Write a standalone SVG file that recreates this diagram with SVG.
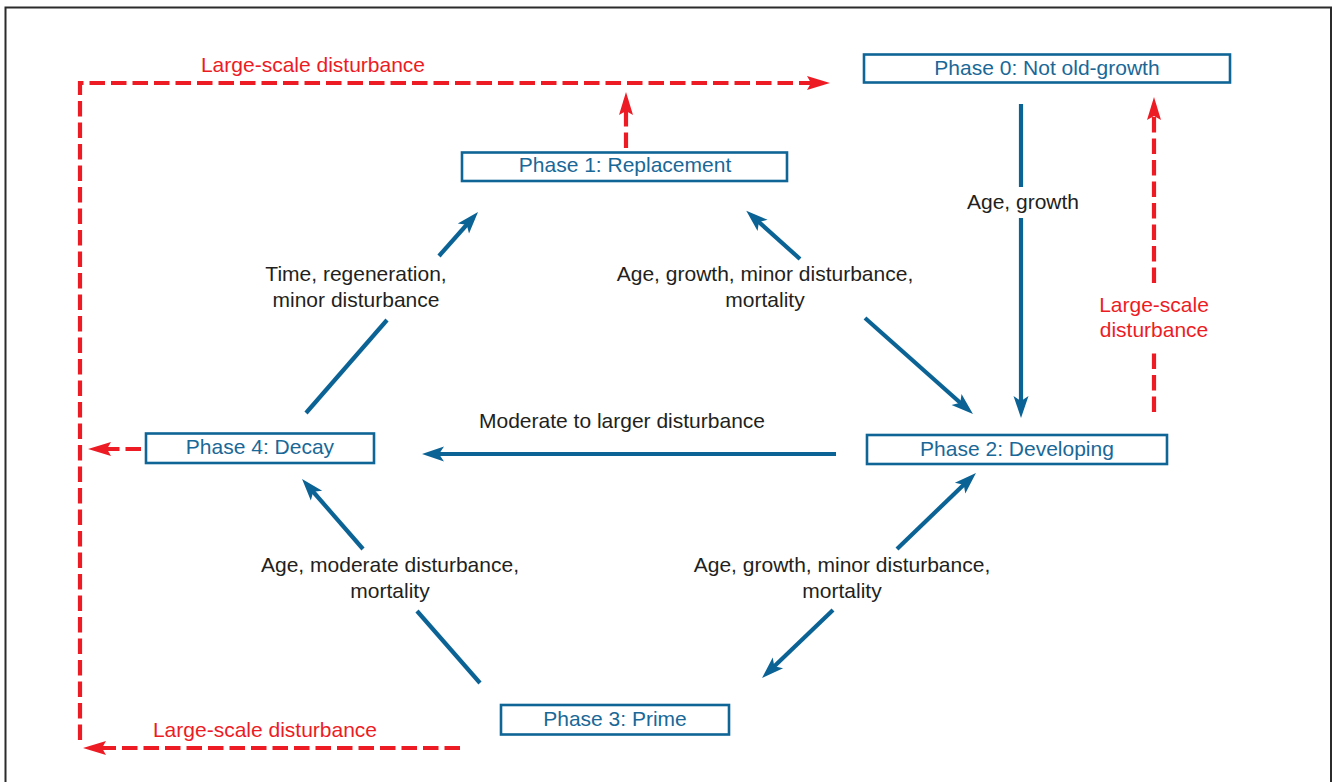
<svg xmlns="http://www.w3.org/2000/svg" width="1334" height="782" viewBox="0 0 1334 782">
<style>
.node rect{fill:#fff;stroke:#0f6596;stroke-width:2.6}
.node text{fill:#1a6897;font-family:"Liberation Sans",Arial,sans-serif;font-size:21px;text-anchor:middle}
.lbl{fill:#231f20;font-family:"Liberation Sans",Arial,sans-serif;font-size:21px;text-anchor:middle}
.rlbl{fill:#ed1c24;font-family:"Liberation Sans",Arial,sans-serif;font-size:21px;text-anchor:middle}
.blue{fill:none;stroke:#0b6395;stroke-width:4.2}
.red{fill:none;stroke:#ed1c24;stroke-width:4.2;stroke-dasharray:15.5 6}
</style>
<defs>
<marker id="ab" markerUnits="userSpaceOnUse" viewBox="-16 -10 30 20" markerWidth="30" markerHeight="20" refX="0" refY="0" orient="auto" overflow="visible">
<path d="M8,0 L-14,-7.5 L-9,0 L-14,7.5 Z" fill="#0b6395"/>
</marker>
<marker id="ar" markerUnits="userSpaceOnUse" viewBox="-16 -10 30 20" markerWidth="30" markerHeight="20" refX="0" refY="0" orient="auto" overflow="visible">
<path d="M8,0 L-15,-7 L-11,0 L-15,7 Z" fill="#ed1c24"/>
</marker>
</defs>
<rect x="0" y="0" width="1334" height="782" fill="#fff"/>
<rect x="5.5" y="7.5" width="1325.5" height="800" fill="none" stroke="#2b2b2b" stroke-width="2"/>

<g id="connectors">
<path class="red" d="M80,740 V83 H822" marker-end="url(#ar)"/>
<path class="red" d="M626,148 V100" marker-end="url(#ar)"/>
<path class="red" d="M141,449 H96" marker-end="url(#ar)"/>
<path class="red" d="M1154,412 V353"/>
<path class="red" d="M1154,283 V105" marker-end="url(#ar)"/>
<path class="red" d="M460,748 H91" marker-end="url(#ar)"/>

<path class="blue" d="M1021,104 V187"/>
<path class="blue" d="M1021,218 V410" marker-end="url(#ab)"/>
<path class="blue" d="M306,413 L387,320"/>
<path class="blue" d="M439,256 L472.7,218" marker-end="url(#ab)"/>
<path class="blue" d="M800,259 L752.2,216" marker-end="url(#ab)"/>
<path class="blue" d="M865,318 L967,408.8" marker-end="url(#ab)"/>
<path class="blue" d="M897,549 L970.2,478.5" marker-end="url(#ab)"/>
<path class="blue" d="M833,610 L767.8,672.5" marker-end="url(#ab)"/>
<path class="blue" d="M363,549 L307.3,485" marker-end="url(#ab)"/>
<path class="blue" d="M480,683 L417,611"/>
<path class="blue" d="M836,454 H430" marker-end="url(#ab)"/>

<text class="rlbl" x="313" y="72">Large-scale disturbance</text>
<text class="rlbl" x="265" y="737">Large-scale disturbance</text>
<text class="rlbl" x="1154" y="312">Large-scale</text>
<text class="rlbl" x="1154" y="337">disturbance</text>

<text class="lbl" x="1023" y="209">Age, growth</text>
<text class="lbl" x="356" y="281">Time, regeneration,</text>
<text class="lbl" x="356" y="307">minor disturbance</text>
<text class="lbl" x="765" y="281">Age, growth, minor disturbance,</text>
<text class="lbl" x="765" y="307">mortality</text>
<text class="lbl" x="622" y="428">Moderate to larger disturbance</text>
<text class="lbl" x="390" y="572">Age, moderate disturbance,</text>
<text class="lbl" x="390" y="598">mortality</text>
<text class="lbl" x="842" y="572">Age, growth, minor disturbance,</text>
<text class="lbl" x="842" y="598">mortality</text>
</g>

<g id="phase0" class="node"><rect x="864" y="54.5" width="366" height="28"/><text x="1047" y="75">Phase 0: Not old-growth</text></g>
<g id="phase1" class="node"><rect x="462" y="152.5" width="325" height="28.5"/><text x="625" y="172">Phase 1: Replacement</text></g>
<g id="phase2" class="node"><rect x="867" y="435" width="300" height="29"/><text x="1017" y="456">Phase 2: Developing</text></g>
<g id="phase3" class="node"><rect x="501" y="705" width="228" height="29.5"/><text x="615" y="726">Phase 3: Prime</text></g>
<g id="phase4" class="node"><rect x="146" y="433.5" width="228" height="29.5"/><text x="260" y="454">Phase 4: Decay</text></g>
</svg>
